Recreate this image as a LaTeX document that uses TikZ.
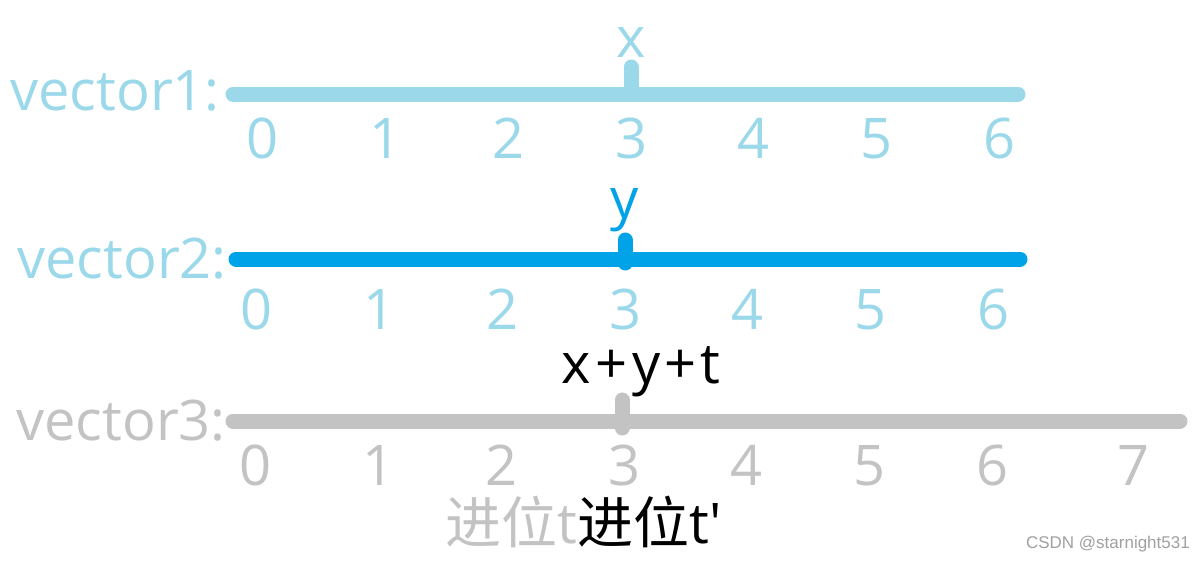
\documentclass[tikz,border=0pt]{standalone}
\usepackage{fontspec}
\setmainfont{Open Sans}
\newfontfamily\cjk{Noto Sans CJK SC}
\newfontfamily\wmfont{Liberation Sans}
\definecolor{lb}{HTML}{9BD9EA}
\definecolor{bl}{HTML}{00A2E8}
\definecolor{gr}{HTML}{C3C3C3}
\definecolor{wm}{HTML}{A0A0A0}
\begin{document}
\begin{tikzpicture}[x=1pt,y=-1pt,
  big/.style={font=\fontsize{56}{60}\selectfont, inner sep=0pt},
  bar/.style={line width=15pt, line cap=round},
  digit/.style={big, anchor=base}]
\useasboundingbox (0,0) rectangle (1204,563);
\fill[white] (0,0) rectangle (1204,563);

% vector1
\node[big, lb, anchor=base east] (v1) at (220,110) {vector1:};
\coordinate (a1) at (233,94);
\coordinate (b1) at (1018,94);
\draw[bar, lb] (a1) -- (b1);
\coordinate (t1a) at (631,67);
\coordinate (t1b) at (631,94);
\draw[bar, lb] (t1a) -- (t1b);
\node[big, lb, anchor=base] (lx) at (631,57) {x};
\foreach \i in {0,...,6}
  \node[digit, lb] (d1\i) at ({263+122.7*\i},158) {\i};

% vector2
\node[big, lb, anchor=base east] (v2) at (227,278) {vector2:};
\coordinate (a2) at (236,259);
\coordinate (b2) at (1020,259);
\draw[bar, bl] (a2) -- (b2);
\coordinate (t2a) at (625,240);
\coordinate (t2b) at (625,263);
\draw[bar, bl] (t2a) -- (t2b);
\node[big, bl, anchor=base] (ly) at (625,218) {y};
\foreach \i in {0,...,6}
  \node[digit, lb] (d2\i) at ({257+122.7*\i},329) {\i};

% vector3
\node[big, gr, anchor=base east] (v3) at (226,440) {vector3:};
\coordinate (a3) at (233,421);
\coordinate (b3) at (1180,421);
\draw[bar, gr] (a3) -- (b3);
\coordinate (t3a) at (622,400);
\coordinate (t3b) at (622,428);
\draw[bar, gr] (t3a) -- (t3b);
\node[big, black, anchor=base] (lxyt) at (641,383) {x\kern5pt+\kern5pt y\kern4pt+\kern4pt t};
\foreach \i in {0,...,6}
  \node[digit, gr] (d3\i) at ({256+122.7*\i},485) {\i};
\node[digit, gr] (d37) at (1133,485) {7};

% carries
\node[big, gr, anchor=base west] (c1) at (445,543) {{\cjk 进位}t};
\node[big, black, anchor=base west] (c2) at (c1.base east) {{\cjk 进位}t\textquotesingle};

% watermark
\node[font=\wmfont\fontsize{17}{20}\selectfont, wm, inner sep=0pt, anchor=base east] (w) at (1190,548) {CSDN @starnight531};
\end{tikzpicture}
\end{document}
